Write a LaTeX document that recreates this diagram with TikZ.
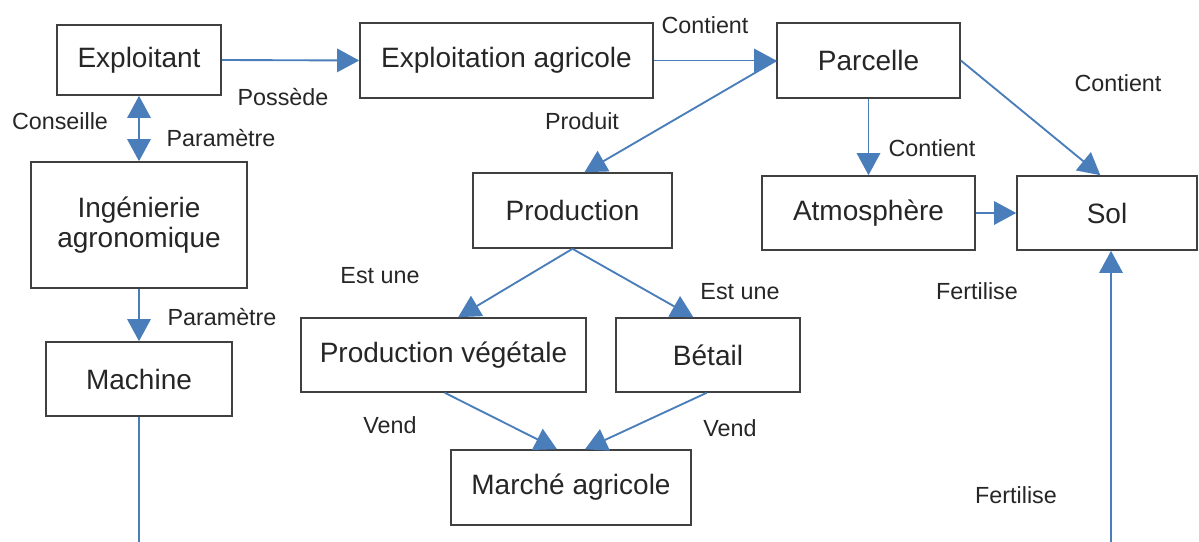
\documentclass[tikz,border=0pt]{standalone}
\usepackage{fontspec}
\setmainfont{Liberation Sans}
\usetikzlibrary{arrows.meta}
\definecolor{bleu}{RGB}{74,126,187}

\begin{document}
\begin{tikzpicture}[x=0.75pt,y=-0.75pt,
	boite/.style={draw=black!75, line width=1.2pt, inner sep=0pt, align=center, text=black!85, font=\fontsize{21}{22.5}\selectfont},
	taille/.style 2 args={minimum width=#1*0.75pt, minimum height=#2*0.75pt},
	lien/.style={line width=1.4pt, draw=bleu, -{Triangle[length=16.5pt,width=17.5pt]}},
	etiq/.style={inner sep=0pt, text=black!85, font=\fontsize{17.5}{20}\selectfont}]

	\useasboundingbox (0,0) rectangle (1199,542);

	% Boxes
	\node[boite, taille={164}{70}] (exploitant) at (139,60) {Exploitant};
	\node[boite, taille={293}{75}] (exploitation) at (506.5,60.5) {Exploitation agricole};
	\node[boite, taille={183}{75}] (parcelle) at (868.5,60.5) {Parcelle};
	\node[boite, taille={216}{126}] (ingenierie) at (139,225) {Ingénierie\\agronomique};
	\node[boite, taille={186}{74}] (machine) at (139,379) {Machine};
	\node[boite, taille={199}{75}] (production) at (572.5,210.5) {Production};
	\node[boite, taille={285}{74}] (vegetale) at (443.5,355) {Production végétale};
	\node[boite, taille={184}{74}] (betail) at (708,355) {Bétail};
	\node[boite, taille={240}{75}] (marche) at (571,487.5) {Marché agricole};
	\node[boite, taille={213}{74}] (atmosphere) at (868.5,213) {Atmosphère};
	\node[boite, taille={180}{74}] (sol) at (1107,213) {Sol};

	% Free ends at the bottom edge
	\coordinate (basG) at (139,542);
	\coordinate (basD) at (1111,542);

	% Links
	\draw[lien] (exploitant.east) -- (exploitation.west);
	\draw[lien] (exploitation.east) -- (parcelle.west);
	\draw[lien] (parcelle.west) -- ([xshift=9pt]production.north);
	\draw[lien, {Triangle[length=16.5pt,width=17.5pt]}-{Triangle[length=16.5pt,width=17.5pt]}] (exploitant.south) -- (ingenierie.north);
	\draw[lien] (ingenierie.south) -- (machine.north);
	\draw[lien, -] (machine.south) -- (basG);
	\draw[lien] (production.south) -- ([xshift=11pt]vegetale.north);
	\draw[lien] (production.south) -- ([xshift=-11pt]betail.north);
	\draw[lien] ([xshift=1pt]vegetale.south) -- ([xshift=-10.5pt]marche.north);
	\draw[lien] ([xshift=-1pt]betail.south) -- ([xshift=10.5pt]marche.north);
	\draw[lien] (parcelle.south) -- (atmosphere.north);
	\draw[lien] (parcelle.east) -- ([xshift=-5pt]sol.north);
	\draw[lien] (atmosphere.east) -- (sol.west);
	\draw[lien] (basD) -- ([xshift=3pt]sol.south);

	% Labels
	\node[etiq] (lpossede) at (283,97) {Possède};
	\node[etiq] (lcontient) at (705,25) {Contient};
	\node[etiq] (lconseille) at (60,121) {Conseille};
	\node[etiq] (lparam) at (221,138) {Paramètre};
	\node[etiq] (lproduit) at (582,121) {Produit};
	\node[etiq] (lcontientb) at (932,148) {Contient};
	\node[etiq] (lcontientc) at (1118,83) {Contient};
	\node[etiq] (lestune) at (380,276) {Est une};
	\node[etiq] (lestuneb) at (740,292) {Est une};
	\node[etiq] (lfertilise) at (977,291) {Fertilise};
	\node[etiq] (lparamb) at (222,317) {Paramètre};
	\node[etiq] (lvend) at (390,425) {Vend};
	\node[etiq] (lvendb) at (730,428) {Vend};
	\node[etiq] (lfertiliseb) at (1016,495) {Fertilise};

\end{tikzpicture}
\end{document}
